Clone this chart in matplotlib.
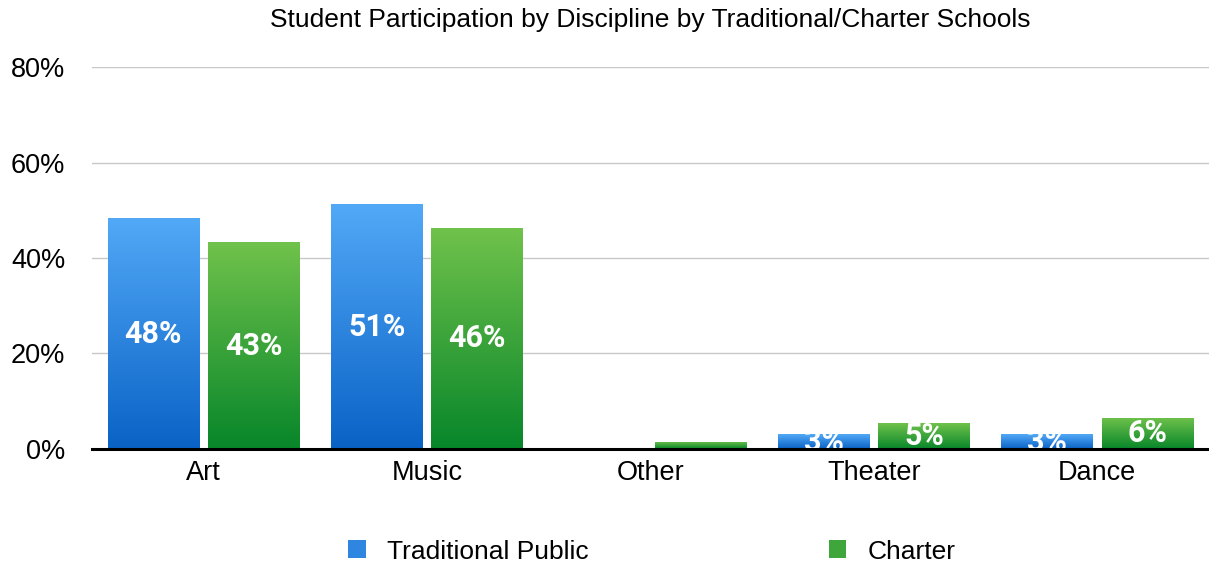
from matplotlib import pyplot as plt
from matplotlib.patches import Patch
from matplotlib.colors import LinearSegmentedColormap
import numpy as np

plt.rcParams['font.family'] = ['Liberation Sans', 'DejaVu Sans']

categories = ["Art", "Music", "Other", "Theater", "Dance"]
traditional = [48.3, 51.3, 0.0, 3.1, 3.1]
charter = [43.3, 46.3, 1.5, 5.4, 6.5]
series_names = ["Traditional Public", "Charter"]

blue_cmap = LinearSegmentedColormap.from_list("b", ["#0a62c6", "#52a9f7"])
green_cmap = LinearSegmentedColormap.from_list("g", ["#07862a", "#70c24b"])

fig = plt.figure(figsize=(12.09, 5.64), dpi=100)
ax = fig.add_axes([0.076, 0.204, 0.924, 0.677])

x = np.arange(len(categories))
w = 0.41
trad_bars = ax.bar(x - 0.225, traditional, w, color="none", edgecolor="none")
chart_bars = ax.bar(x + 0.225, charter, w, color="none", edgecolor="none")

grad = np.linspace(0, 1, 256).reshape(-1, 1)
for bars, cmap in [(trad_bars, blue_cmap), (chart_bars, green_cmap)]:
    for b in bars:
        h = b.get_height()
        if h <= 0:
            continue
        x0 = b.get_x()
        im = ax.imshow(grad, cmap=cmap, origin="lower", aspect="auto",
                       extent=[x0, x0 + b.get_width(), 0, h], zorder=2)
        im.set_clip_path(b)
        if h < 2:
            continue  # too thin, label hidden
        t = ax.text(x0 + b.get_width() / 2, h / 2, f"{round(h)}%",
                    ha="center", va="center", color="white", fontsize=22,
                    fontweight="bold", zorder=3, family=['Roboto'])
        t.set_clip_path(b)

ax.set_xlim(-0.5, len(categories) - 0.5)
ax.set_ylim(0, 80)
ax.set_yticks([0, 20, 40, 60, 80])
ax.set_yticklabels([f"{v}%" for v in [0, 20, 40, 60, 80]])
ax.set_xticks(x)
ax.set_xticklabels(categories)
ax.tick_params(axis="both", length=0, labelsize=19.5)
ax.tick_params(axis="y", pad=19)
ax.tick_params(axis="x", pad=8)
ax.yaxis.grid(True, color="#c8c8c8", linewidth=1)
ax.set_axisbelow(True)
for s in ["top", "right", "left"]:
    ax.spines[s].set_visible(False)
ax.spines["bottom"].set_linewidth(2.2)
ax.spines["bottom"].set_zorder(4)

fig.text(0.538, 0.965, "Student Participation by Discipline by Traditional/Charter Schools",
         ha="center", va="center", fontsize=19)

handles = [Patch(facecolor="#2e86e0"), Patch(facecolor="#3ea63a")]
fig.legend(handles, series_names, loc="center", bbox_to_anchor=(0.539, 0.022),
           ncol=2, frameon=False, fontsize=19, handlelength=0.68,
           handleheight=0.68, handletextpad=0.8, columnspacing=9.1)

fig.savefig("out.png", dpi=100)
